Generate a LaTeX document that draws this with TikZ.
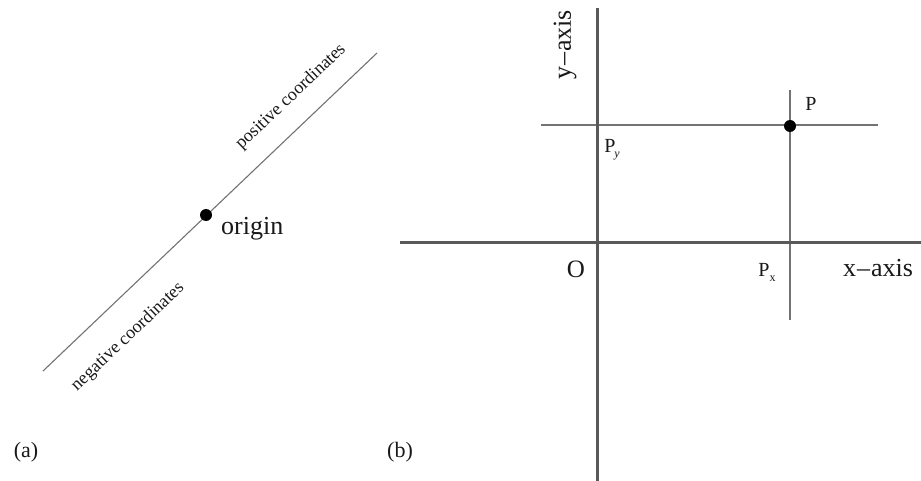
\documentclass[tikz,border=0pt]{standalone}
\usepackage{fontspec}
\setmainfont{Liberation Serif}
\definecolor{axiscol}{gray}{0.35}
\definecolor{thincol}{gray}{0.45}
\definecolor{txtcol}{gray}{0.1}
\begin{document}
\begin{tikzpicture}[x=1pt,y=-1pt,
  thinline/.style={draw=thincol,line width=1.1pt},
  axisline/.style={draw=axiscol,line width=3pt},
  dotnode/.style={circle,fill=black,inner sep=0pt,minimum size=12pt},
  lbl/.style={text=txtcol,inner sep=0pt,font=\fontsize{26}{28}\selectfont},
  small/.style={text=txtcol,inner sep=0pt,font=\fontsize{18}{20}\selectfont},
  plbl/.style={text=txtcol,inner sep=0pt,font=\fontsize{20}{22}\selectfont}]
\useasboundingbox[fill=white] (0,0) rectangle (921,481);
% (a)
\coordinate (a1) at (43,371);
\coordinate (a2) at (377,53);
\draw[thinline] (a1) -- (a2);
\node[dotnode] (org) at (206,215) {};
\node[lbl,anchor=base west] (orgl) at (221,235) {origin};
\node[small,rotate=43.6] (pos) at (291,97) {positive coordinates};
\node[small,rotate=43.6] (neg) at (128,337) {negative coordinates};
\node[plbl,font=\fontsize{22}{24}\selectfont] (la) at (26,452) {(a)};
% (b)
\coordinate (ya) at (597,8);
\coordinate (yb) at (597,481);
\coordinate (xa) at (400,243);
\coordinate (xb) at (921,243);
\coordinate (ha) at (541,125);
\coordinate (hb) at (878,125);
\coordinate (va) at (790,90);
\coordinate (vb) at (790,320);
\draw[thinline] (ha) -- (hb);
\draw[thinline] (va) -- (vb);
\draw[axisline] (ya) -- (yb);
\draw[axisline] (xa) -- (xb);
\node[dotnode] (P) at (790,126) {};
\node[plbl] (Pl) at (811,104) {P};
\node[plbl] (Py) at (612,150) {P\kern-1pt\raisebox{-5pt}{\fontsize{12}{13}\selectfont\itshape y}};
\node[plbl] (Px) at (767,272) {P\raisebox{-5pt}{\fontsize{12}{13}\selectfont x}};
\node[lbl,font=\fontsize{25}{27}\selectfont] (O) at (576,269) {O};
\node[lbl] (xl) at (878,268) {x\kern1pt--\kern1pt axis};
\node[lbl,rotate=90] (yl) at (565,45) {y\kern1pt--\kern1pt axis};
\node[plbl,font=\fontsize{22}{24}\selectfont] (lb) at (400,452) {(b)};
\end{tikzpicture}
\end{document}
